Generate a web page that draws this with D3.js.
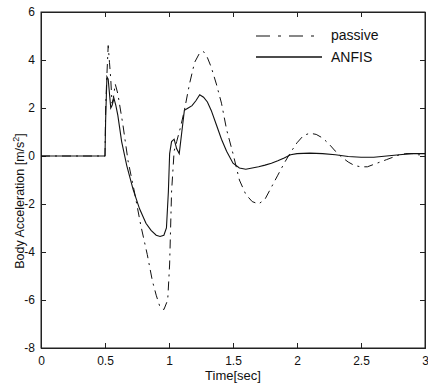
<!DOCTYPE html>
<html><head><meta charset="utf-8">
<script src="https://cdn.jsdelivr.net/npm/d3@7/dist/d3.min.js"></script>
<style>body{margin:0;background:#fff}svg{display:block}text{font-family:Arial,"Liberation Sans",sans-serif;fill:#111}</style>
</head><body><svg id="c" width="428" height="385"></svg>
<script>
const xTicks = [0, 0.5, 1, 1.5, 2, 2.5, 3];
const xTickLabels = ["0", "0.5", "1", "1.5", "2", "2.5", "3"];
const yTicks = [6, 4, 2, 0, -2, -4, -6, -8];
const seriesNames = ["passive", "ANFIS"];

const passiveT = [0, 0.5, 0.505, 0.515, 0.525, 0.535, 0.545, 0.555, 0.565, 0.58, 0.6, 0.64, 0.68, 0.73, 0.78, 0.83, 0.87, 0.9, 0.93, 0.96, 0.99, 1.005, 1.02, 1.04, 1.06, 1.09, 1.12, 1.16, 1.2, 1.24, 1.27, 1.3, 1.33, 1.37, 1.41, 1.45, 1.5, 1.55, 1.6, 1.65, 1.7, 1.75, 1.8, 1.85, 1.9, 1.95, 2.0, 2.05, 2.1, 2.15, 2.2, 2.25, 2.3, 2.35, 2.4, 2.45, 2.5, 2.55, 2.6, 2.65, 2.7, 2.75, 2.8, 2.85, 2.9, 2.95, 3.0];
const passiveV = [0, 0, 2.0, 3.4, 4.6, 3.9, 3.2, 2.2, 2.4, 3.0, 2.6, 1.3, -0.2, -1.5, -2.9, -4.1, -5.2, -5.8, -6.3, -6.4, -6.0, -4.5, -1.5, 0.2, 0.6, 1.2, 1.9, 3.0, 3.9, 4.3, 4.35, 4.1, 3.7, 3.0, 2.2, 1.1, 0.1, -1.0, -1.6, -1.9, -2.0, -1.8, -1.3, -0.8, -0.3, 0.15, 0.55, 0.85, 0.95, 0.9, 0.75, 0.5, 0.2, -0.05, -0.25, -0.4, -0.45, -0.45, -0.35, -0.25, -0.15, -0.05, 0.05, 0.1, 0.1, 0.05, 0.05];

const anfisT = [0, 0.5, 0.505, 0.515, 0.525, 0.535, 0.545, 0.555, 0.57, 0.585, 0.6, 0.63, 0.67, 0.72, 0.77, 0.82, 0.86, 0.9, 0.93, 0.96, 0.98, 0.995, 1.005, 1.02, 1.04, 1.06, 1.08, 1.1, 1.12, 1.15, 1.18, 1.21, 1.24, 1.27, 1.3, 1.33, 1.37, 1.41, 1.45, 1.5, 1.55, 1.6, 1.65, 1.7, 1.75, 1.8, 1.85, 1.9, 1.95, 2.0, 2.1, 2.2, 2.3, 2.4, 2.5, 2.6, 2.7, 2.8, 2.9, 3.0];
const anfisV = [0, 0, 1.5, 3.3, 3.2, 2.6, 2.0, 2.1, 2.4, 2.1, 1.7, 0.6, -0.4, -1.4, -2.2, -2.8, -3.1, -3.3, -3.35, -3.3, -3.0, -1.5, 0.1, 0.6, 0.7, 0.3, 0.1, 1.0, 1.9, 2.0, 2.1, 2.3, 2.55, 2.45, 2.25, 1.9, 1.3, 0.7, 0.2, -0.3, -0.5, -0.55, -0.5, -0.45, -0.38, -0.3, -0.2, -0.08, 0.05, 0.1, 0.12, 0.1, 0.05, -0.02, -0.05, -0.05, 0.0, 0.05, 0.1, 0.1];

const svg = d3.select("#c");
const L = 41, R = 425, T = 12, B = 348;
const x = d3.scaleLinear().domain([0, 3]).range([L, R]);
const y = d3.scaleLinear().domain([-8, 6]).range([B, T]);

const g = svg.append("g");
g.append("rect").attr("x", L).attr("y", T).attr("width", R - L).attr("height", B - T)
  .attr("fill", "none").attr("stroke", "#222").attr("stroke-width", 1);

const xAxis = d3.axisBottom(x).tickValues(xTicks).tickFormat((d, i) => xTickLabels[i]).tickSize(-5).tickPadding(8);
g.append("g").attr("transform", `translate(0,${B})`).call(xAxis);
const xAxisTop = d3.axisTop(x).tickValues(xTicks).tickFormat("").tickSize(-5);
g.append("g").attr("transform", `translate(0,${T})`).call(xAxisTop);
const yAxis = d3.axisLeft(y).tickValues(yTicks).tickFormat(d3.format("d")).tickSize(-5).tickPadding(6);
const gy = g.append("g").attr("transform", `translate(${L},0)`).call(yAxis);
const yAxisR = d3.axisRight(y).tickValues(yTicks).tickFormat("").tickSize(-5);
g.append("g").attr("transform", `translate(${R},0)`).call(yAxisR);
g.selectAll(".domain").attr("stroke", "#222");
g.selectAll(".tick line").attr("stroke", "#222");
g.selectAll(".tick text").attr("font-size", 12).style("fill", "#111")
  .attr("font-family", "Arial, 'Liberation Sans', sans-serif");
gy.selectAll(".tick text").text(d => d < 0 ? "-" + Math.abs(d) : d);

const line = d3.line().x(d => x(d[0])).y(d => y(d[1]));
const passive = passiveT.map((t, i) => [t, passiveV[i]]);
const anfis = anfisT.map((t, i) => [t, anfisV[i]]);

g.append("path").datum(passive).attr("d", line).attr("fill", "none")
  .attr("stroke", "#111").attr("stroke-width", 1).attr("stroke-dasharray", "9,5,2,5");
g.append("path").datum(anfis).attr("d", line).attr("fill", "none")
  .attr("stroke", "#111").attr("stroke-width", 1.1);

const lg = svg.append("g");
lg.append("line").attr("x1", 256).attr("x2", 322).attr("y1", 36).attr("y2", 36)
  .attr("stroke", "#111").attr("stroke-width", 1.2).attr("stroke-dasharray", "14,8,3,8");
lg.append("line").attr("x1", 256).attr("x2", 322).attr("y1", 57).attr("y2", 57)
  .attr("stroke", "#111").attr("stroke-width", 1.4);
lg.append("text").attr("x", 331).attr("y", 40).attr("font-size", 14).text(seriesNames[0]);
lg.append("text").attr("x", 331).attr("y", 62).attr("font-size", 14).text(seriesNames[1]);

svg.append("text").attr("x", (L + R) / 2).attr("y", 380).attr("text-anchor", "middle")
  .attr("font-size", 13).text("Time[sec]");
const yl = svg.append("text").attr("transform", `translate(24,201) rotate(-90)`)
  .attr("text-anchor", "middle").attr("font-size", 12.5);
yl.append("tspan").text("Body Acceleration [m/s");
yl.append("tspan").attr("dy", -5).attr("font-size", 9).text("2");
yl.append("tspan").attr("dy", 5).text("]");
</script></body></html>
